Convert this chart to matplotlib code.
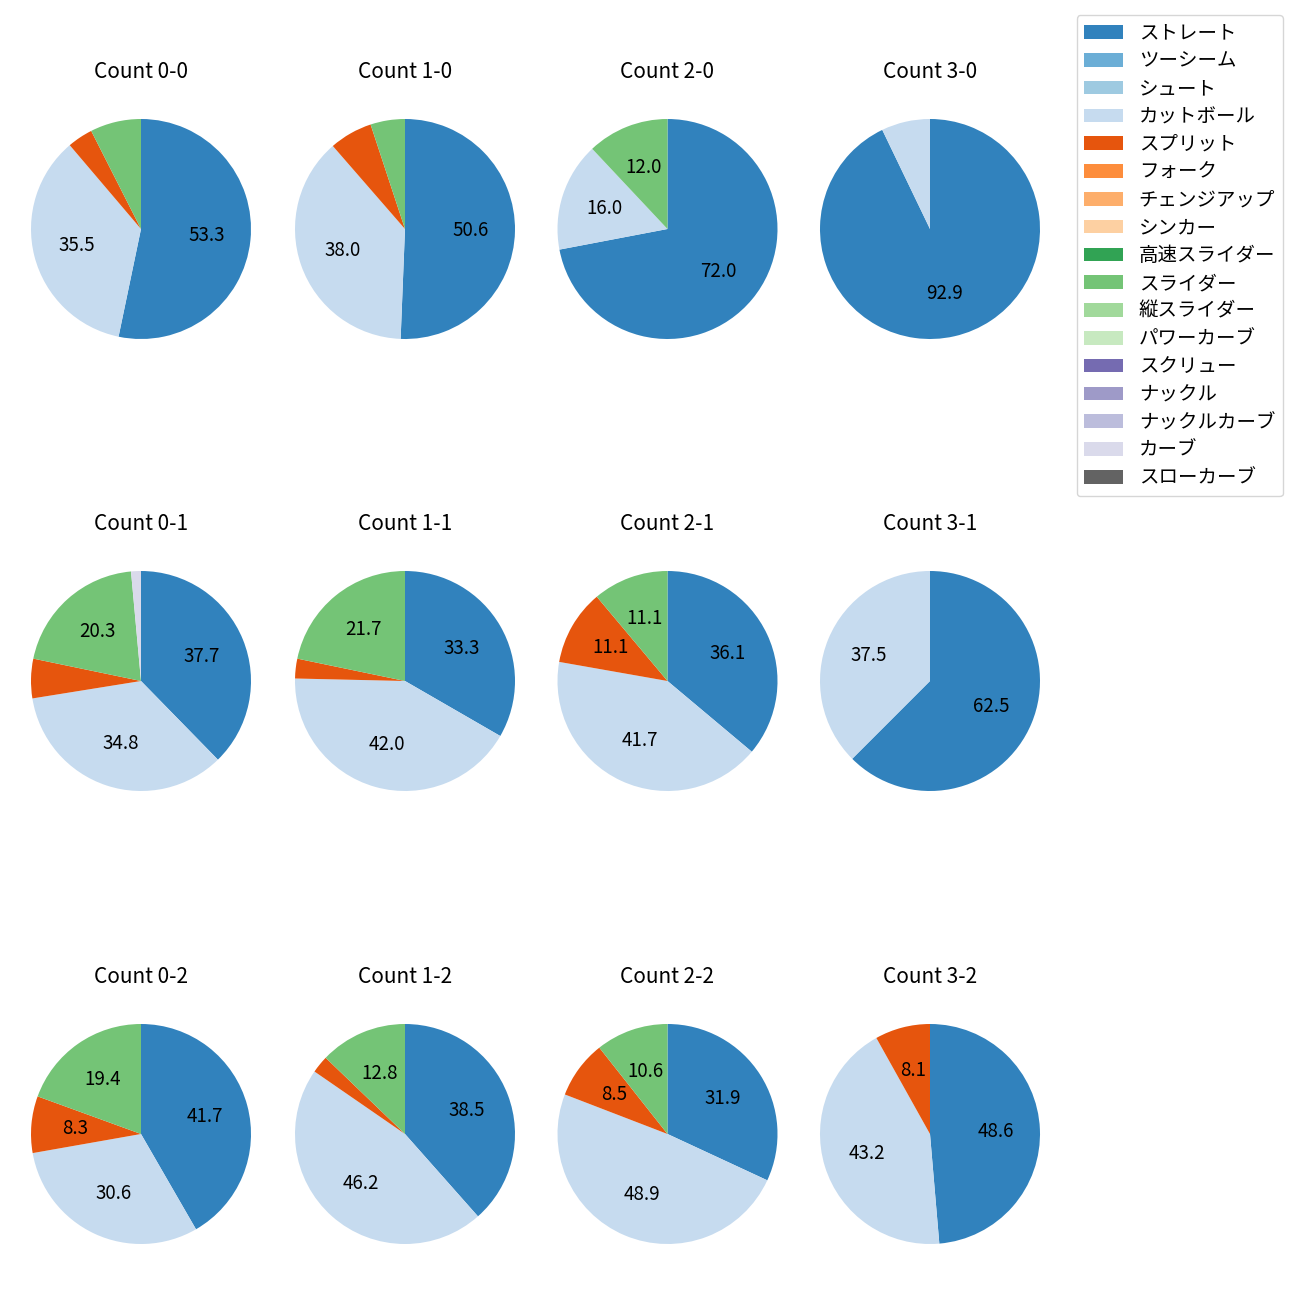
import matplotlib
matplotlib.use("Agg")
import matplotlib.pyplot as plt
from matplotlib.patches import Patch

plt.rcParams['font.family'] = ['Noto Sans CJK JP', 'DejaVu Sans']

# pitch types and colours (tab20c order)
pitch_types = ['ストレート', 'ツーシーム', 'シュート', 'カットボール', 'スプリット', 'フォーク',
               'チェンジアップ', 'シンカー', '高速スライダー', 'スライダー', '縦スライダー',
               'パワーカーブ', 'スクリュー', 'ナックル', 'ナックルカーブ', 'カーブ', 'スローカーブ']
pitch_colors = ['#3182bd', '#6baed6', '#9ecae1', '#c6dbef', '#e6550d', '#fd8d3c',
                '#fdae6b', '#fdd0a2', '#31a354', '#74c476', '#a1d99b', '#c7e9c0',
                '#756bb1', '#9e9ac8', '#bcbddc', '#dadaeb', '#636363']

# pitch counts per ball-strike count
counts_0_0 = {'ストレート': 57, 'カットボール': 38, 'スプリット': 4, 'スライダー': 8}
counts_1_0 = {'ストレート': 40, 'カットボール': 30, 'スプリット': 5, 'スライダー': 4}
counts_2_0 = {'ストレート': 18, 'カットボール': 4, 'スライダー': 3}
counts_3_0 = {'ストレート': 13, 'カットボール': 1}
counts_0_1 = {'ストレート': 26, 'カットボール': 24, 'スプリット': 4, 'スライダー': 14, 'カーブ': 1}
counts_1_1 = {'ストレート': 23, 'カットボール': 29, 'スプリット': 2, 'スライダー': 15}
counts_2_1 = {'ストレート': 13, 'カットボール': 15, 'スプリット': 4, 'スライダー': 4}
counts_3_1 = {'ストレート': 5, 'カットボール': 3}
counts_0_2 = {'ストレート': 15, 'カットボール': 11, 'スプリット': 3, 'スライダー': 7}
counts_1_2 = {'ストレート': 15, 'カットボール': 18, 'スプリット': 1, 'スライダー': 5}
counts_2_2 = {'ストレート': 15, 'カットボール': 23, 'スプリット': 4, 'スライダー': 5}
counts_3_2 = {'ストレート': 18, 'カットボール': 16, 'スプリット': 3}

grid = [
    [('Count 0-0', counts_0_0), ('Count 1-0', counts_1_0), ('Count 2-0', counts_2_0), ('Count 3-0', counts_3_0)],
    [('Count 0-1', counts_0_1), ('Count 1-1', counts_1_1), ('Count 2-1', counts_2_1), ('Count 3-1', counts_3_1)],
    [('Count 0-2', counts_0_2), ('Count 1-2', counts_1_2), ('Count 2-2', counts_2_2), ('Count 3-2', counts_3_2)],
]

color_of = dict(zip(pitch_types, pitch_colors))

fig = plt.figure(figsize=(13, 13), dpi=100)

col_centers = [141, 405, 667.5, 930]
row_centers = [229, 681, 1134]
size = 275

for r, row in enumerate(grid):
    for c, (title, data) in enumerate(row):
        cx, cy = col_centers[c], row_centers[r]
        ax = fig.add_axes([(cx - size / 2) / 1300, 1 - (cy + size / 2) / 1300,
                           size / 1300, size / 1300])
        labels = [p for p in pitch_types if p in data]
        vals = [data[p] for p in labels]
        ax.pie(vals, colors=[color_of[p] for p in labels], startangle=90,
               counterclock=False,
               autopct=lambda pct: f'{pct:.1f}' if pct >= 8 else '',
               textprops={'fontsize': 13.5})
        ax.set_title(title, fontsize=15, pad=10)

handles = [Patch(facecolor=col, label=name) for name, col in zip(pitch_types, pitch_colors)]
fig.legend(handles=handles, loc='upper right', bbox_to_anchor=(1283 / 1300, 1 - 15 / 1300),
           borderaxespad=0, fontsize=14, labelspacing=0.35)

fig.savefig('out.png', dpi=100)
